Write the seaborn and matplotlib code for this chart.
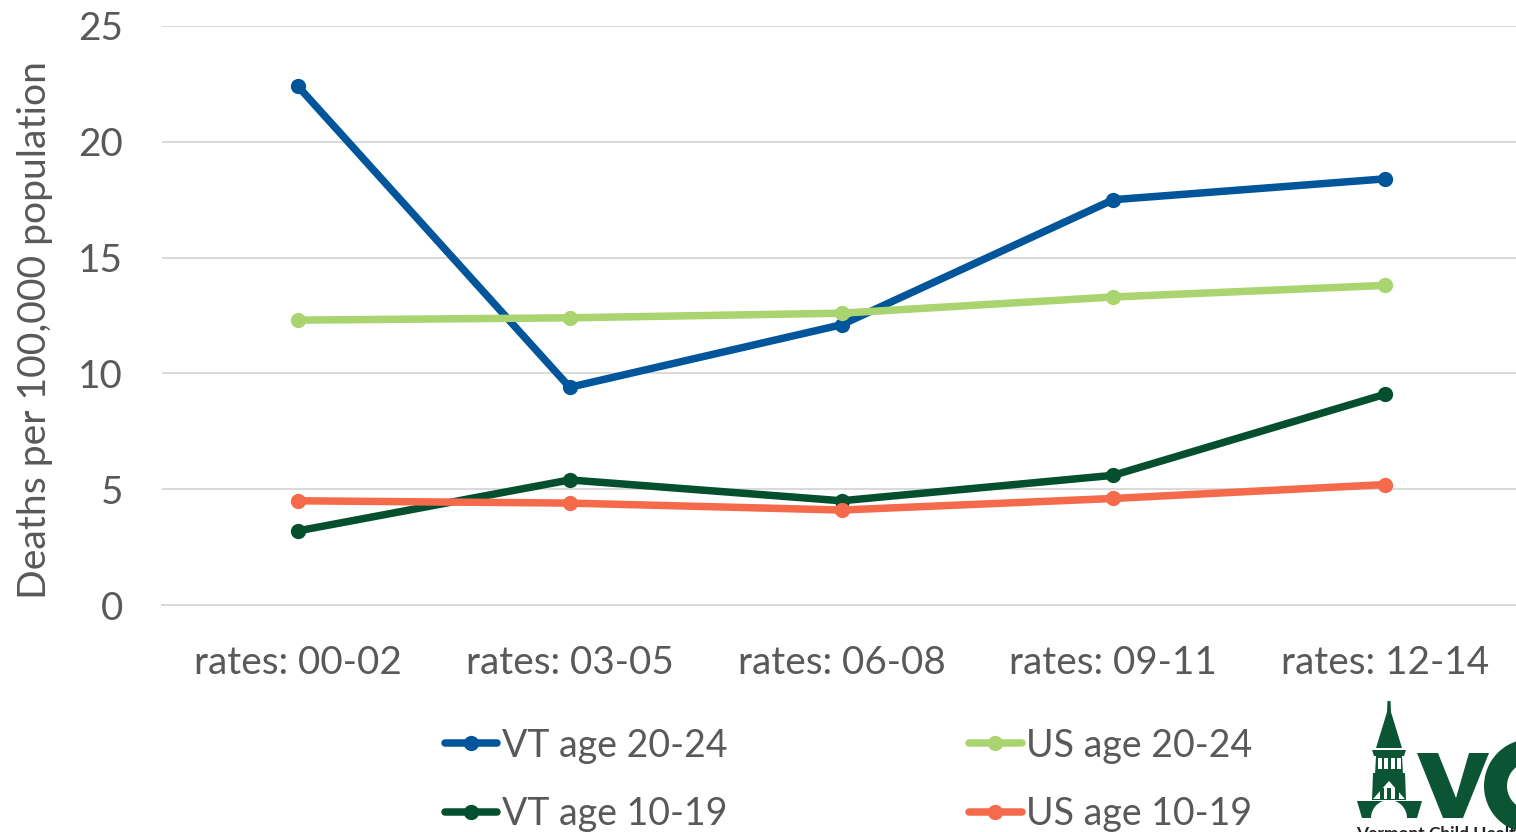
import matplotlib
matplotlib.use('Agg')
import matplotlib.pyplot as plt
from matplotlib.patches import Polygon, Rectangle, Wedge
import pandas as pd
import seaborn as sns

periods = ['rates: 00-02', 'rates: 03-05', 'rates: 06-08', 'rates: 09-11', 'rates: 12-14']
vt_20_24 = [22.4, 9.4, 12.1, 17.5, 18.4]
us_20_24 = [12.3, 12.4, 12.6, 13.3, 13.8]
vt_10_19 = [3.2, 5.4, 4.5, 5.6, 9.1]
us_10_19 = [4.5, 4.4, 4.1, 4.6, 5.2]
y_ticks = [0, 5, 10, 15, 20, 25]

series = {'VT age 20-24': vt_20_24, 'VT age 10-19': vt_10_19,
          'US age 20-24': us_20_24, 'US age 10-19': us_10_19}
colors = {'VT age 20-24': '#00559B', 'VT age 10-19': '#034F2E',
          'US age 20-24': '#A9D46F', 'US age 10-19': '#F46A4B'}

df = pd.DataFrame([(p, name, v) for name, vals in series.items()
                   for p, v in zip(periods, vals)],
                  columns=['period', 'group', 'rate'])

W, H = 1516, 832
TEXT = '#595959'
FS = 27.8
LEG_FS = 27

sns.set_theme(style='whitegrid')
plt.rcParams['font.family'] = ['Lato', 'DejaVu Sans']

fig = plt.figure(figsize=(W / 100, H / 100), dpi=100)
ax = fig.add_axes([162 / W, (H - 605) / H, 1359 / W, 579 / H])

sns.lineplot(data=df, x='period', y='rate', hue='group', hue_order=list(series),
             palette=colors, marker='o', markersize=11, markeredgewidth=0,
             linewidth=5.4, solid_capstyle='round', errorbar=None, sort=False,
             ax=ax, clip_on=False)

ax.set_xlim(-0.5, 4.5)
ax.set_ylim(0, 25)
ax.set_yticks(y_ticks)
ax.set_xlabel('')
ax.set_ylabel('Deaths per 100,000 population', fontsize=28.2, color=TEXT, labelpad=18, y=0.475)
ax.grid(axis='x', visible=False)
ax.grid(axis='y', color='#D9D9D9', linewidth=1.4)
ax.tick_params(axis='both', labelsize=FS, labelcolor=TEXT, length=0)
ax.tick_params(axis='y', pad=28)
ax.tick_params(axis='x', pad=28.7)
for lab in ax.get_yticklabels():
    lab.set_verticalalignment('center_baseline')
for s in ['left', 'right', 'top']:
    ax.spines[s].set_visible(False)
ax.spines['bottom'].set_color('#D9D9D9')
ax.spines['bottom'].set_linewidth(1.4)

handles, labels = ax.get_legend_handles_labels()
leg = ax.legend(handles, labels, ncol=2, frameon=False, fontsize=LEG_FS,
                loc='upper left', bbox_to_anchor=(444.5 / W, (H - 727.5) / H),
                bbox_transform=fig.transFigure, borderpad=0, borderaxespad=0,
                handlelength=1.4, handletextpad=0.13, labelspacing=0.86,
                columnspacing=6.44)
for t in leg.get_texts():
    t.set_color(TEXT)
for h in leg.get_lines():
    h.set_solid_capstyle('round')

# logo, drawn on an overlay in pixel coordinates
GREEN = '#0B5534'
logo = fig.add_axes([0, 0, 1, 1], zorder=5)
logo.set_xlim(0, W)
logo.set_ylim(H, 0)
logo.axis('off')
logo.patch.set_alpha(0)
shapes = [
    [(1387.5, 701), (1390.5, 701), (1391, 712), (1402, 748), (1376, 748), (1387, 712)],
    [(1372, 750), (1406, 750), (1404, 756), (1374, 756)],
    [(1376, 756), (1402, 756), (1403, 775), (1375, 775)],
    [(1373, 773), (1405, 773), (1406, 800), (1372, 800)],
    [(1357, 801), (1422, 801), (1417, 818), (1362, 818)],
    [(1417, 753), (1438, 753), (1456, 798), (1469, 753), (1489, 753), (1463, 818), (1443, 818)],
]
for pts in shapes:
    logo.add_patch(Polygon(pts, closed=True, color=GREEN, lw=0))
for x0 in [1378, 1384, 1391, 1397]:
    logo.add_patch(Rectangle((x0, 758), 4, 11, color='white', lw=0))
logo.add_patch(Polygon([(1389, 781), (1373, 799), (1405, 799)], closed=True, color='white', lw=0))
for x0 in [1380, 1387, 1395]:
    logo.add_patch(Rectangle((x0, 788), 4, 11, color=GREEN, lw=0))
logo.add_patch(Wedge((1389, 818), 18, 180, 360, color='white', lw=0))
logo.add_patch(Wedge((1531, 786), 47, 60, 300, width=23, color=GREEN, lw=0))
logo.text(1356, 826, 'Vermont Child Health', fontsize=12.5, fontweight='bold',
          color='#222222', va='top', ha='left', clip_on=False)

plt.savefig('out.png', dpi=100)
